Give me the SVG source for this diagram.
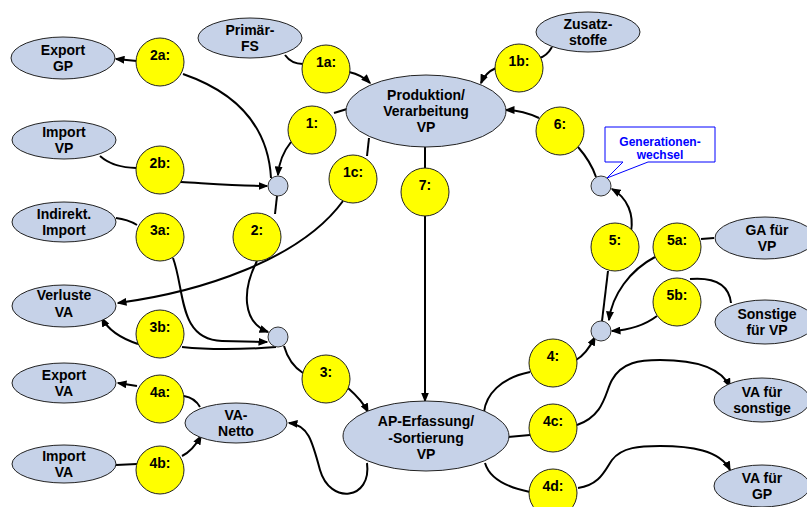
<svg xmlns="http://www.w3.org/2000/svg" width="807" height="507" viewBox="0 0 807 507">
<defs>
<style>
.e{fill:#c6d2e8;stroke:#222;stroke-width:1}
.y{fill:#ffff00;stroke:#222;stroke-width:1}
.j{fill:#c6d2e8;stroke:#333;stroke-width:1}
.c{fill:none;stroke:#000;stroke-width:2}
.a{marker-end:url(#arr)}
text{font-family:"Liberation Sans",Arial,sans-serif;font-weight:bold;font-size:14px;fill:#000;text-anchor:middle}
.cb{fill:#fff;stroke:#0000ff;stroke-width:1}
.ct{fill:#0000ff;font-size:12px}
</style>
<marker id="arr" markerUnits="userSpaceOnUse" markerWidth="10" markerHeight="8" refX="8.5" refY="4" orient="auto">
<path d="M0,0 L10,4 L0,8 Z" fill="#000"/>
</marker>
</defs>
<rect width="807" height="507" fill="#fff"/>
<g id="connectors">
<path class="c" d="M285,55 C290,62 296,64 303,64"/>
<path class="c a" d="M349,72 C358,74 365,78 370,83"/>
<path class="c" d="M552,47 C548,54 544,57 539,58"/>
<path class="c a" d="M496,68 C489,71 484,76 481,83"/>
<path class="c" d="M347,109 L334,113"/>
<path class="c a" d="M291,142 C283,152 279,162 278,175"/>
<path class="c" d="M183,74 C235,92 268,125 271,178"/>
<path class="c a" d="M137,61 L116,59"/>
<path class="c" d="M100,156 C110,165 125,168 136,168"/>
<path class="c a" d="M181,182 C215,184 240,186 267,186"/>
<path class="c" d="M369,138 L367,156"/>
<path class="c a" d="M343,201 C300,260 200,292 118,303"/>
<path class="c" d="M277,196 L275,214"/>
<path class="c a" d="M257,261 C242,290 242,322 268,332"/>
<path class="c" d="M116,218 C125,219 132,222 137,225"/>
<path class="c a" d="M173,258 C185,290 178,340 222,341 L267,342"/>
<path class="c" d="M276,347 C250,349 210,350 182,347"/>
<path class="c a" d="M138,344 C120,338 108,330 102,318"/>
<path class="c" d="M284,346 C288,360 295,368 303,373"/>
<path class="c a" d="M348,388 C356,395 363,402 368,412"/>
<path class="c" d="M425,147 L425,168"/>
<path class="c a" d="M425,216 L425,401"/>
<path class="c a" d="M367,463 C372,500 330,505 320,470 C312,440 308,425 289,423"/>
<path class="c" d="M200,407 C196,400 190,397 184,396"/>
<path class="c a" d="M137,386 L118,383"/>
<path class="c" d="M116,465 L137,464"/>
<path class="c a" d="M182,456 C190,452 196,445 201,436"/>
<path class="c" d="M484,412 C486,395 500,378 530,372"/>
<path class="c a" d="M576,360 C585,355 590,347 595,337"/>
<path class="c" d="M508,437 L530,435"/>
<path class="c a" d="M577,425 C605,415 605,392 612,380 C622,362 640,360 660,360 C690,360 720,365 730,387"/>
<path class="c" d="M485,463 C490,480 510,488 530,492"/>
<path class="c a" d="M578,488 C600,485 605,470 612,460 C622,447 640,446 660,446 C690,446 720,450 730,470"/>
<path class="c" d="M602,321 L608,271"/>
<path class="c a" d="M631,232 C634,215 628,198 612,189"/>
<path class="c" d="M714,238 L701,239"/>
<path class="c a" d="M655,257 C630,270 612,295 609,320"/>
<path class="c" d="M731,303 C729,285 715,277 690,279"/>
<path class="c a" d="M657,316 C645,325 630,330 612,331"/>
<path class="c" d="M596,177 C592,165 585,155 578,147"/>
<path class="c a" d="M539,118 C528,113 518,110 506,110"/>
</g>
<g id="exportGP"><ellipse class="e" cx="63" cy="58" rx="52" ry="21"/><text x="63" y="55">Export</text><text x="63" y="71">GP</text></g>
<g id="primaerFS"><ellipse class="e" cx="250" cy="38" rx="52" ry="20"/><text x="250" y="35">Primär-</text><text x="250" y="51">FS</text></g>
<g id="zusatzstoffe"><ellipse class="e" cx="588" cy="32" rx="52" ry="20"/><text x="588" y="29">Zusatz-</text><text x="588" y="45">stoffe</text></g>
<g id="produktion"><ellipse class="e" cx="426" cy="111" rx="80" ry="36"/><text x="426" y="100">Produktion/</text><text x="426" y="116">Verarbeitung</text><text x="426" y="132">VP</text></g>
<g id="importVP"><ellipse class="e" cx="64" cy="140" rx="52" ry="19"/><text x="64" y="137">Import</text><text x="64" y="153">VP</text></g>
<g id="indirektImport"><ellipse class="e" cx="64" cy="222" rx="52" ry="20"/><text x="64" y="219">Indirekt.</text><text x="64" y="235">Import</text></g>
<g id="verlusteVA"><ellipse class="e" cx="64" cy="306" rx="52" ry="21"/><text x="64" y="300">Verluste</text><text x="64" y="317">VA</text></g>
<g id="exportVA"><ellipse class="e" cx="64" cy="383" rx="52" ry="20"/><text x="64" y="380">Export</text><text x="64" y="396">VA</text></g>
<g id="importVA"><ellipse class="e" cx="64" cy="464" rx="52" ry="19"/><text x="64" y="461">Import</text><text x="64" y="477">VA</text></g>
<g id="vaNetto"><ellipse class="e" cx="236" cy="423" rx="51" ry="20"/><text x="236" y="420">VA-</text><text x="236" y="436">Netto</text></g>
<g id="apErfassung"><ellipse class="e" cx="426" cy="436" rx="83" ry="35"/><text x="426" y="426">AP-Erfassung/</text><text x="426" y="443">-Sortierung</text><text x="426" y="459">VP</text></g>
<g id="gaVP"><ellipse class="e" cx="765" cy="238" rx="50" ry="21"/><text x="767" y="235">GA für</text><text x="767" y="251">VP</text></g>
<g id="sonstigeVP"><ellipse class="e" cx="765" cy="322" rx="50" ry="22"/><text x="767" y="319">Sonstige</text><text x="767" y="335">für VP</text></g>
<g id="vaSonstige"><ellipse class="e" cx="762" cy="400" rx="48" ry="22"/><text x="762" y="397">VA für</text><text x="762" y="413">sonstige</text></g>
<g id="vaGP"><ellipse class="e" cx="762" cy="486" rx="48" ry="21"/><text x="762" y="483">VA für</text><text x="762" y="499">GP</text></g>
<g id="n2a"><circle class="y" cx="160" cy="62" r="24"/><text x="160" y="60">2a:</text></g>
<g id="n1a"><circle class="y" cx="326" cy="69" r="24"/><text x="326" y="67">1a:</text></g>
<g id="n1b"><circle class="y" cx="519" cy="68" r="24"/><text x="519" y="66">1b:</text></g>
<g id="n1"><circle class="y" cx="312" cy="130" r="24"/><text x="312" y="128">1:</text></g>
<g id="n6"><circle class="y" cx="560" cy="131" r="24"/><text x="560" y="129">6:</text></g>
<g id="n2b"><circle class="y" cx="160" cy="170" r="24"/><text x="160" y="168">2b:</text></g>
<g id="n1c"><circle class="y" cx="353" cy="179" r="24"/><text x="353" y="177">1c:</text></g>
<g id="n7"><circle class="y" cx="425" cy="192" r="24"/><text x="425" y="190">7:</text></g>
<g id="n3a"><circle class="y" cx="160" cy="237" r="24"/><text x="160" y="235">3a:</text></g>
<g id="n2"><circle class="y" cx="257" cy="237" r="24"/><text x="257" y="235">2:</text></g>
<g id="n5"><circle class="y" cx="615" cy="247" r="24"/><text x="615" y="245">5:</text></g>
<g id="n5a"><circle class="y" cx="677" cy="247" r="24"/><text x="677" y="245">5a:</text></g>
<g id="n5b"><circle class="y" cx="677" cy="302" r="24"/><text x="677" y="300">5b:</text></g>
<g id="n3b"><circle class="y" cx="160" cy="334" r="24"/><text x="160" y="332">3b:</text></g>
<g id="n3"><circle class="y" cx="326" cy="379" r="24"/><text x="326" y="377">3:</text></g>
<g id="n4a"><circle class="y" cx="160" cy="399" r="24"/><text x="160" y="397">4a:</text></g>
<g id="n4b"><circle class="y" cx="160" cy="470" r="24"/><text x="160" y="468">4b:</text></g>
<g id="n4"><circle class="y" cx="553" cy="363" r="24"/><text x="553" y="361">4:</text></g>
<g id="n4c"><circle class="y" cx="553" cy="428" r="24"/><text x="553" y="426">4c:</text></g>
<g id="n4d"><circle class="y" cx="553" cy="493" r="24"/><text x="553" y="491">4d:</text></g>
<g id="j1"><circle class="j" cx="278" cy="186" r="10"/></g>
<g id="j2"><circle class="j" cx="278" cy="337" r="10"/></g>
<g id="j3"><circle class="j" cx="601" cy="186" r="10"/></g>
<g id="j4"><circle class="j" cx="601" cy="331" r="10"/></g>
<g id="callout"><path class="cb" d="M605,127 H715 V162 H648 L607,178 L623,162 H605 Z"/><text class="ct" x="660" y="146">Generationen-</text><text class="ct" x="660" y="159">wechsel</text></g>
</svg>
